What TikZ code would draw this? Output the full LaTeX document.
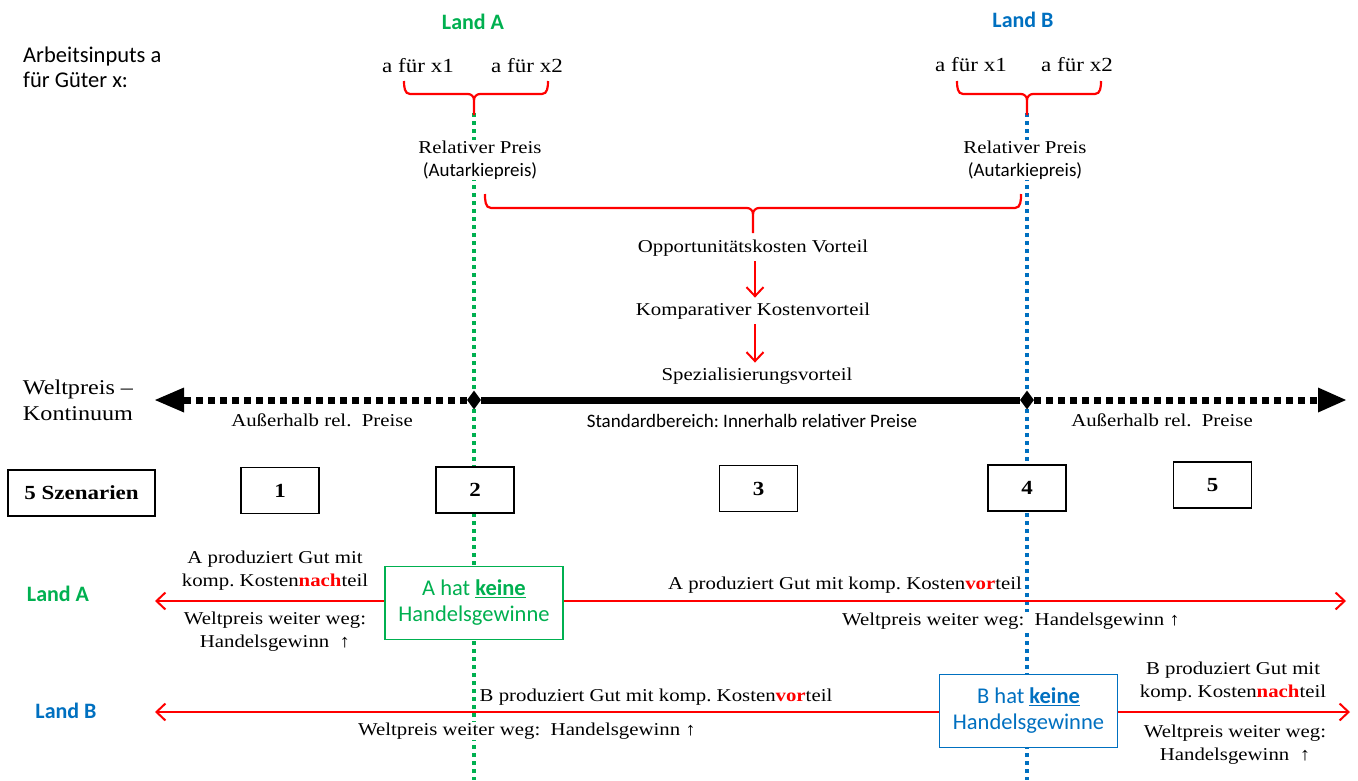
\documentclass[tikz,border=0pt]{standalone}
\usepackage{fontspec}
\setmainfont{Liberation Serif}[FakeStretch=1.15]
\setsansfont{Carlito}
\usetikzlibrary{arrows.meta,shapes.geometric}
\definecolor{gA}{HTML}{00B050}
\definecolor{bB}{HTML}{0070C0}
\definecolor{rr}{HTML}{FF0000}
\frenchspacing
\tikzset{
  sr/.style={font=\fontsize{18.1}{23}\selectfont, inner sep=1pt, align=center},
  srbig/.style={font=\fontsize{20}{25}\selectfont, inner sep=1pt, align=center},
  sn/.style={font=\sffamily\fontsize{19}{25}\selectfont, inner sep=1pt, align=center},
  snbig/.style={font=\sffamily\fontsize{22.5}{25}\selectfont, inner sep=1pt, align=center},
  landlbl/.style={font=\sffamily\bfseries\fontsize{22}{25}\selectfont, inner sep=1pt},
  scbox/.style={draw, line width=1.2pt, minimum width=78pt, minimum height=46pt, fill=white,
     font=\bfseries\fontsize{20}{24}\selectfont, inner sep=0pt},
  gbox/.style={draw=#1, line width=1.2pt, fill=white, text=#1, minimum width=178pt, minimum height=73pt,
     font=\sffamily\fontsize{22.5}{26}\selectfont, align=center, inner sep=0pt},
  rarr/.style={rr, line width=2pt, -{Straight Barb[length=9pt,width=17pt,line width=2pt]}},
  rbrace/.style={rr, line width=2.2pt},
  vdot/.style={line width=3.5pt, dash pattern=on 4pt off 4pt},
  whitebg/.style={fill=white},
}
\newcommand\rb[1]{\textcolor{rr}{\textbf{#1}}}
\begin{document}
\begin{tikzpicture}[x=1pt,y=-1pt]
\useasboundingbox (0,0) rectangle (1358,780);
% vertical dotted lines
\coordinate (gTop) at (474,113);
\coordinate (gBot) at (474,780);
\coordinate (bTop) at (1027,113);
\coordinate (bBot) at (1027,780);
\draw[vdot, gA] (gTop) -- (gBot);
\draw[vdot, bB] (bTop) -- (bBot);

% headers
\node[landlbl, text=gA] (landA) at (473,22) {Land A};
\node[landlbl, text=bB] (landB) at (1023,20) {Land B};
\node[snbig, anchor=west, align=left] (arb) at (22,67) {Arbeitsinputs a\\für Güter x:};
\node[srbig] (aA1) at (418,66) {a für x1};
\node[srbig] (aA2) at (527,66) {a für x2};
\node[srbig] (aB1) at (971,65) {a für x1};
\node[srbig] (aB2) at (1077,65) {a für x2};

% braces
\draw[rbrace] (404,81) to[out=-90,in=180] (410,94) -- (468,94) to[out=0,in=90] (474,100) -- (474,115);
\draw[rbrace] (548,81) to[out=-90,in=0] (542,94) -- (480,94) to[out=180,in=90] (474,100);
\draw[rbrace] (957,81) to[out=-90,in=180] (963,94) -- (1021,94) to[out=0,in=90] (1027,100) -- (1027,115);
\draw[rbrace] (1101,81) to[out=-90,in=0] (1095,94) -- (1033,94) to[out=180,in=90] (1027,100);

\node[sr, whitebg] (rpA) at (480,160) {Relativer Preis\\{\sffamily\fontsize{19}{23}\selectfont(Autarkiepreis)}};
\node[sr, whitebg] (rpB) at (1025,160) {Relativer Preis\\{\sffamily\fontsize{19}{23}\selectfont(Autarkiepreis)}};

\draw[rbrace] (485,194) to[out=-90,in=180] (491,208) -- (747,208) to[out=0,in=90] (753,214) -- (753,233);
\draw[rbrace] (1021,194) to[out=-90,in=0] (1015,208) -- (759,208) to[out=180,in=90] (753,214);

\node[sr] (opp) at (753,248) {Opportunitätskosten Vorteil};
\node[sr] (komp) at (753,311) {Komparativer Kostenvorteil};
\node[sr] (spez) at (757,376) {Spezialisierungsvorteil};
\draw[rarr] ([xshift=2pt,yshift=-4pt]opp.south) -- ([xshift=2pt,yshift=4pt]komp.north);
\draw[rarr] ([xshift=2pt,yshift=-4pt]komp.south) -- ([xshift=-2pt,yshift=4pt]spez.north);

% continuum line
\node[srbig, font=\fontsize{21}{26}\selectfont] (welt) at (78,400) {Weltpreis –\\Kontinuum};
\node[diamond, fill=black, inner sep=0pt, minimum width=14pt, minimum height=19pt] (Da) at (474,400) {};
\node[diamond, fill=black, inner sep=0pt, minimum width=14pt, minimum height=19pt] (Db) at (1027,400) {};
\coordinate (Ltip) at (155,400);
\coordinate (Lbase) at (184,400);
\coordinate (Rtip) at (1346,400);
\coordinate (Rbase) at (1318,400);
\draw[line width=7pt, dash pattern=on 7pt off 5pt] (Da) -- (Lbase);
\fill (Ltip) -- ([yshift=-12.5pt]Lbase) -- ([yshift=12.5pt]Lbase) -- cycle;
\draw[line width=7pt] (Da) -- (Db);
\draw[line width=7pt, dash pattern=on 7pt off 5pt] (Db) -- (Rbase);
\fill (Rtip) -- ([yshift=-12.5pt]Rbase) -- ([yshift=12.5pt]Rbase) -- cycle;

\node[sr] (outL) at (322,420) {Außerhalb rel.\ \ Preise};
\node[sr] (outR) at (1162,420) {Außerhalb rel.\ \ Preise};
\node[sn] (std) at (752,421) {Standardbereich: Innerhalb relativer Preise};

% scenario boxes
\node[scbox, minimum width=147pt] (sz) at (81.5,493) {5 Szenarien};
\node[scbox] (s1) at (280,490.5) {1};
\node[scbox] (s2) at (475,490) {2};
\node[scbox] (s3) at (758.5,488.5) {3};
\node[scbox] (s4) at (1027,488) {4};
\node[scbox] (s5) at (1212.5,485) {5};

% Land A row
\node[landlbl, text=gA] (rowA) at (58,594) {Land A};
\node[gbox=gA] (boxA) at (474,603) {A hat \underline{\textbf{keine}}\\Handelsgewinne};
\coordinate (aL) at (155,601);
\coordinate (aR) at (1346,601);
\draw[rarr] (boxA.west |- aL) -- (aL);
\draw[rarr] (boxA.east |- aR) -- (aR);
\node[sr] (aNach) at (275,571) {A produziert Gut mit\\komp. Kosten\rb{nach}teil};
\node[sr] (aNachW) at (275,632) {Weltpreis weiter weg:\\Handelsgewinn\ \ ↑};
\node[sr] (aVor) at (845,585) {A produziert Gut mit komp. Kosten\rb{vor}teil};
\node[sr, whitebg] (aVorW) at (1011,621) {Weltpreis weiter weg:\ \ Handelsgewinn ↑};

% Land B row
\node[landlbl, text=bB] (rowB) at (66,711) {Land B};
\node[gbox=bB] (boxB) at (1028.5,711) {B hat \underline{\textbf{keine}}\\Handelsgewinne};
\coordinate (bL) at (155,712);
\coordinate (bR) at (1350,712);
\draw[rarr] (boxB.west |- bL) -- (bL);
\draw[rarr] (boxB.east |- bR) -- (bR);
\node[sr] (bVor) at (656,697) {B produziert Gut mit komp. Kosten\rb{vor}teil};
\node[sr, whitebg] (bVorW) at (527,731) {Weltpreis weiter weg:\ \ Handelsgewinn ↑};
\node[sr] (bNach) at (1233,682) {B produziert Gut mit\\komp. Kosten\rb{nach}teil};
\node[sr] (bNachW) at (1235,745) {Weltpreis weiter weg:\\Handelsgewinn\ \ ↑};
\end{tikzpicture}
\end{document}
